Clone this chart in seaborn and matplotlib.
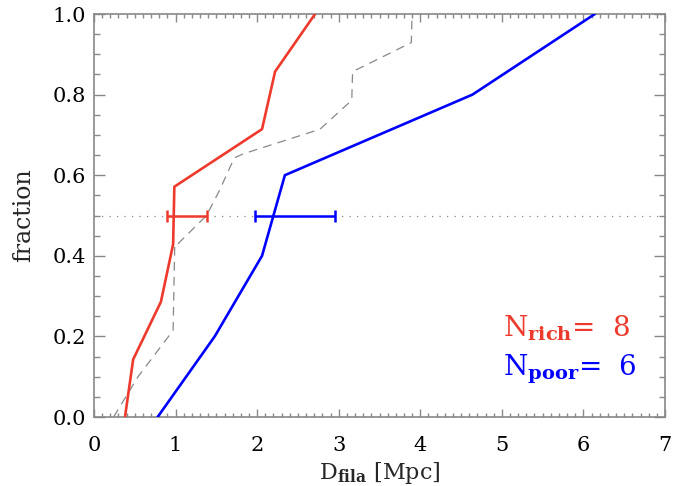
import matplotlib
matplotlib.use("Agg")
import matplotlib.pyplot as plt
import seaborn as sns
import pandas as pd
from matplotlib.ticker import MultipleLocator

# ---- data ----
rich_x = [0.38, 0.48, 0.82, 0.97, 0.985, 2.06, 2.22, 2.71]
rich_y = [0/7, 1/7, 2/7, 3/7, 4/7, 5/7, 6/7, 7/7]

poor_x = [0.78, 1.48, 2.06, 2.34, 4.64, 6.14]
poor_y = [0.0, 0.2, 0.4, 0.6, 0.8, 1.0]

all_x = [0.24, 0.54, 0.97, 0.99, 1.03, 1.38, 1.54, 1.72, 1.83, 2.77, 3.16, 3.17, 3.89, 3.90]
all_y = [0.0, 0.10, 0.215, 0.43, 0.43, 0.50, 0.563, 0.643, 0.653, 0.714, 0.786, 0.857, 0.929, 1.0]

rich_err = [0.89, 1.38]   # low / high at fraction 0.5
poor_err = [1.97, 2.96]
err_level = 0.5

n_rich = 8
n_poor = 6

x_ticks = [0, 1, 2, 3, 4, 5, 6, 7]
y_ticks = [0.0, 0.2, 0.4, 0.6, 0.8, 1.0]
y_tick_labels = ["0.0", "0.2", "0.4", "0.6", "0.8", "1.0"]

RED = "#EE3A2C"
BLUE = "#0000FF"
GREY = "#888888"

sns.set_theme(style="ticks")
plt.rcParams["font.family"] = ["DejaVu Serif", "DejaVu Sans"]
plt.rcParams["mathtext.fontset"] = "dejavuserif"

fig = plt.figure(figsize=(6.86, 4.86), dpi=100)
ax = fig.add_axes([94/686, 1-417/486, (665-94)/686, (417-14)/486])

df_r = pd.DataFrame({"x": rich_x, "y": rich_y})
df_p = pd.DataFrame({"x": poor_x, "y": poor_y})
df_a = pd.DataFrame({"x": all_x, "y": all_y})

ax.axhline(err_level, color=GREY, lw=0.9, ls=(0, (1, 5)), zorder=1)

sns.lineplot(data=df_a, x="x", y="y", sort=False, estimator=None, ax=ax,
             color=GREY, lw=0.9, zorder=2)
ax.lines[-1].set_linestyle((0, (7, 5)))
sns.lineplot(data=df_r, x="x", y="y", sort=False, estimator=None, ax=ax,
             color=RED, lw=1.9, zorder=3)
sns.lineplot(data=df_p, x="x", y="y", sort=False, estimator=None, ax=ax,
             color=BLUE, lw=1.9, zorder=3)

for lohi, col in [(rich_err, RED), (poor_err, BLUE)]:
    c = (lohi[0] + lohi[1]) / 2
    h = (lohi[1] - lohi[0]) / 2
    ax.errorbar([c], [err_level], xerr=[h], fmt="none", ecolor=col,
                elinewidth=1.8, capsize=4.5, capthick=1.8, zorder=4)

ax.set_xlim(0, 7)
ax.set_ylim(0, 1)
ax.set_xticks(x_ticks)
ax.set_xticklabels([str(t) for t in x_ticks])
ax.set_yticks(y_ticks)
ax.set_yticklabels(y_tick_labels)
ax.xaxis.set_minor_locator(MultipleLocator(0.1))
ax.yaxis.set_minor_locator(MultipleLocator(0.05))

ax.tick_params(axis="both", which="both", direction="in", top=True, right=True,
               colors=GREY, labelcolor="black", labelsize=15, width=1.0)
ax.tick_params(axis="x", which="major", length=6, pad=14)
ax.tick_params(axis="x", which="minor", length=3)
ax.tick_params(axis="y", which="major", length=8, pad=6)
ax.tick_params(axis="y", which="minor", length=4)
for s in ax.spines.values():
    s.set_color(GREY)
    s.set_linewidth(1.2)

ax.set_xlabel(r"D$_{\mathbf{fila}}$ [Mpc]", fontsize=16, labelpad=3)
ax.set_ylabel("fraction", fontsize=17, labelpad=12)

ax.text(5.01, 0.199, r"N$_{\mathbf{rich}}$= " + f" {n_rich}", color=RED,
        fontsize=20, va="baseline", ha="left")
ax.text(5.01, 0.104, r"N$_{\mathbf{poor}}$= " + f" {n_poor}", color=BLUE,
        fontsize=20, va="baseline", ha="left")

fig.savefig("out.png", dpi=100)
